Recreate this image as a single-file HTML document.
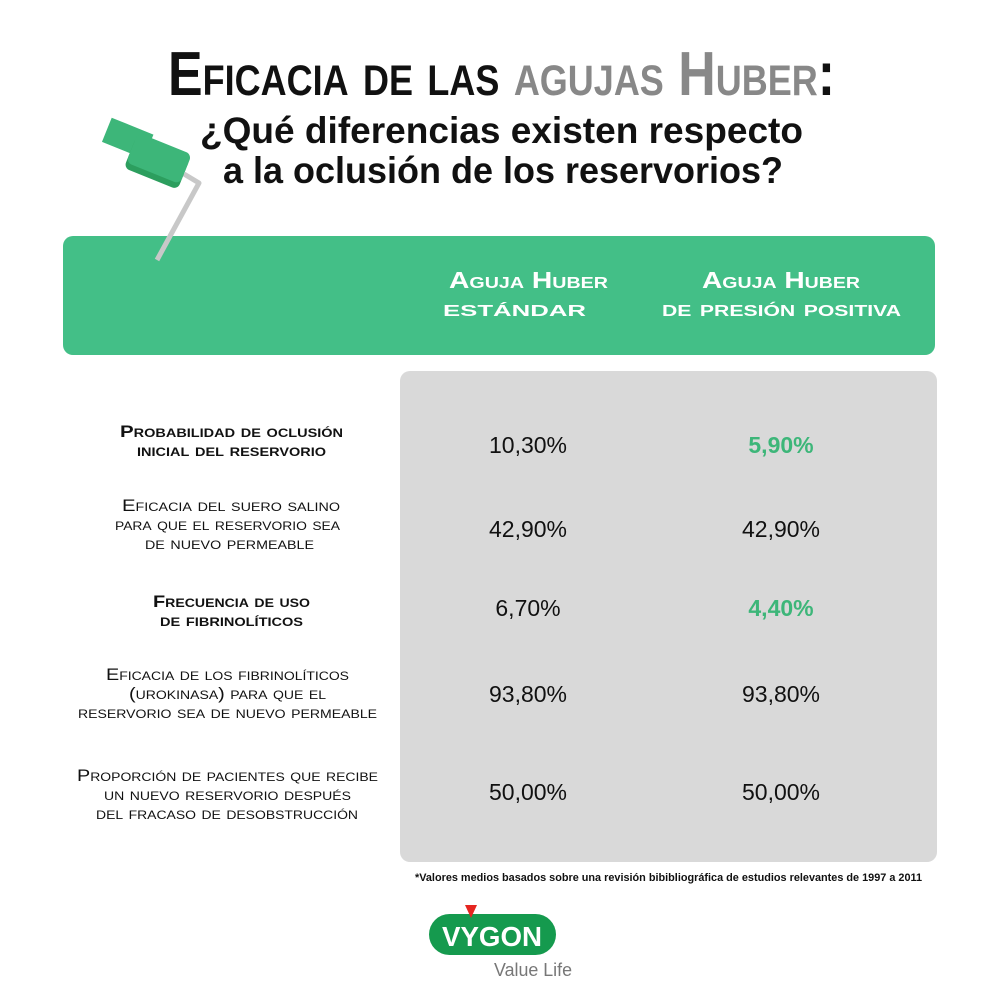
<!DOCTYPE html>
<html><head><meta charset="utf-8"><style>
html,body{margin:0;padding:0;background:#fff;}
svg{display:block;}
text{font-family:"Liberation Sans",sans-serif;}
.sc{font-variant:small-caps;}
</style></head><body>
<svg width="1000" height="1000" viewBox="0 0 1000 1000" xmlns="http://www.w3.org/2000/svg">
<rect width="1000" height="1000" fill="#fff"/>
<!-- title -->
<text x="168" y="95" font-size="62" font-weight="bold" class="sc" textLength="667" lengthAdjust="spacingAndGlyphs"><tspan fill="#111">Eficacia de las </tspan><tspan fill="#888">agujas Huber</tspan><tspan fill="#111">:</tspan></text>
<text x="200" y="143" font-size="37" font-weight="bold" fill="#111" textLength="603" lengthAdjust="spacingAndGlyphs">¿Qué diferencias existen respecto</text>
<text x="223" y="183" font-size="37" font-weight="bold" fill="#111" textLength="560" lengthAdjust="spacingAndGlyphs">a la oclusión de los reservorios?</text>
<!-- green header -->
<rect x="63" y="236" width="872" height="119" rx="10" fill="#43bf87"/>
<!-- needle -->
<polyline points="184,174 199,183 157,260" fill="none" stroke="#c8c8c8" stroke-width="5" stroke-linejoin="round"/>
<g transform="rotate(22 158 158)">
<rect x="100" y="138" width="45" height="26" fill="#3db679"/>
<rect x="130" y="146" width="58" height="34" rx="6" fill="#2c9e5e"/>
<rect x="130" y="142" width="58" height="32" rx="6" fill="#3db679"/>
</g>
<!-- header text -->
<g font-weight="bold" fill="#fff" font-size="23" class="sc">
<text x="449" y="288" textLength="159" lengthAdjust="spacingAndGlyphs">Aguja Huber</text>
<text x="443" y="316" textLength="143" lengthAdjust="spacingAndGlyphs">estándar</text>
<text x="702" y="288" textLength="158" lengthAdjust="spacingAndGlyphs">Aguja Huber</text>
<text x="662" y="316" textLength="239" lengthAdjust="spacingAndGlyphs">de presión positiva</text>
</g>
<!-- gray box -->
<rect x="400" y="371" width="537" height="491" rx="10" fill="#d9d9d9"/>
<!-- labels -->
<g font-size="17" fill="#111" class="sc">
<text x="120" y="437" font-weight="bold" textLength="223" lengthAdjust="spacingAndGlyphs">Probabilidad de oclusión</text>
<text x="137" y="456" font-weight="bold" textLength="189" lengthAdjust="spacingAndGlyphs">inicial del reservorio</text>
<text x="122" y="511" textLength="218" lengthAdjust="spacingAndGlyphs">Eficacia del suero salino</text>
<text x="115" y="530" textLength="225" lengthAdjust="spacingAndGlyphs">para que el reservorio sea</text>
<text x="145" y="549" textLength="169" lengthAdjust="spacingAndGlyphs">de nuevo permeable</text>
<text x="153" y="607" font-weight="bold" textLength="157" lengthAdjust="spacingAndGlyphs">Frecuencia de uso</text>
<text x="160" y="626" font-weight="bold" textLength="143" lengthAdjust="spacingAndGlyphs">de fibrinolíticos</text>
<text x="106" y="680" textLength="243" lengthAdjust="spacingAndGlyphs">Eficacia de los fibrinolíticos</text>
<text x="129" y="699" textLength="197" lengthAdjust="spacingAndGlyphs">(urokinasa) para que el</text>
<text x="78" y="718" textLength="299" lengthAdjust="spacingAndGlyphs">reservorio sea de nuevo permeable</text>
<text x="77" y="781" textLength="301" lengthAdjust="spacingAndGlyphs">Proporción de pacientes que recibe</text>
<text x="104" y="800" textLength="247" lengthAdjust="spacingAndGlyphs">un nuevo reservorio después</text>
<text x="96" y="819" textLength="262" lengthAdjust="spacingAndGlyphs">del fracaso de desobstrucción</text>
</g>
<!-- values -->
<g font-size="23" fill="#111" text-anchor="middle">
<text x="528" y="453">10,30%</text>
<text x="781" y="453" fill="#3db679" font-weight="bold">5,90%</text>
<text x="528" y="537">42,90%</text>
<text x="781" y="537">42,90%</text>
<text x="528" y="616">6,70%</text>
<text x="781" y="616" fill="#3db679" font-weight="bold">4,40%</text>
<text x="528" y="702">93,80%</text>
<text x="781" y="702">93,80%</text>
<text x="528" y="800">50,00%</text>
<text x="781" y="800">50,00%</text>
</g>
<text x="415" y="881" font-size="11" font-weight="bold" fill="#111" textLength="507" lengthAdjust="spacingAndGlyphs">*Valores medios basados sobre una revisión bibibliográfica de estudios relevantes de 1997 a 2011</text>
<!-- logo -->
<rect x="429" y="914" width="127" height="41" rx="20.5" fill="#159a4e"/>
<polygon points="465,905 477,905 471,918" fill="#e52520"/>
<text x="492" y="946" font-size="28" font-weight="bold" fill="#fff" text-anchor="middle" textLength="100" lengthAdjust="spacingAndGlyphs">VYGON</text>
<text x="494" y="976" font-size="18" fill="#777" textLength="78" lengthAdjust="spacingAndGlyphs">Value Life</text>
</svg>
</body></html>
